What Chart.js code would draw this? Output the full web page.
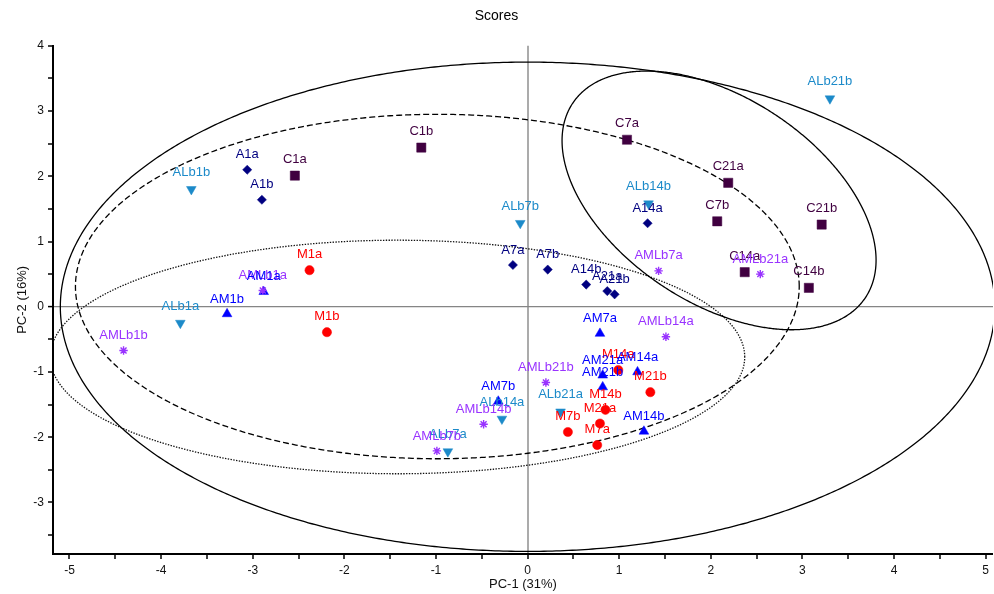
<!DOCTYPE html>
<html><head><meta charset="utf-8">
<script src="https://cdn.jsdelivr.net/npm/chart.js@4.4.0/dist/chart.umd.min.js"></script>
<style>html,body{margin:0;padding:0;background:#fff}#wrap{width:994px;height:594px;position:relative}</style>
</head><body><div id="wrap"><canvas id="c" width="994" height="594"></canvas></div>
<script>
// ---- data ----
const aNames = ['A1a','A1b','A7a','A7b','A14a','A14b','A21a','A21b'];
const aX = [-3.06,-2.90,-0.16,0.22,1.31,0.64,0.87,0.95];
const aY = [2.10,1.64,0.64,0.57,1.28,0.34,0.24,0.19];

const cNames = ['C1a','C1b','C7a','C7b','C14a','C14b','C21a','C21b'];
const cX = [-2.54,-1.16,1.085,2.07,2.37,3.07,2.19,3.21];
const cY = [2.01,2.44,2.56,1.31,0.53,0.29,1.90,1.26];

const albNames = ['ALb1a','ALb1b','ALb7a','ALb7b','ALb14a','ALb14b','ALb21a','ALb21b'];
const albX = [-3.79,-3.67,-0.87,-0.08,-0.28,1.32,0.36,3.30];
const albY = [-0.25,1.80,-2.22,1.28,-1.72,1.58,-1.61,3.19];

const amNames = ['AM1a','AM1b','AM7a','AM7b','AM14a','AM14b','AM21a','AM21b'];
const amX = [-2.88,-3.28,0.79,-0.32,1.20,1.27,0.82,0.82];
const amY = [0.23,-0.11,-0.41,-1.45,-1.00,-1.91,-1.05,-1.23];

const mNames = ['M1a','M1b','M7a','M7b','M14a','M14b','M21a','M21b'];
const mX = [-2.38,-2.19,0.76,0.44,0.99,0.85,0.79,1.34];
const mY = [0.56,-0.39,-2.12,-1.92,-0.97,-1.58,-1.79,-1.31];

const amlNames = ['AMLb1a','AMLb1b','AMLb7a','AMLb7b','AMLb14a','AMLb14b','AMLb21a','AMLb21b'];
const amlX = [-2.89,-4.41,1.43,-0.99,1.51,-0.48,2.54,0.20];
const amlY = [0.25,-0.67,0.55,-2.21,-0.46,-1.80,0.50,-1.16];

// confidence ellipses: centre and two semi-axis vectors (data units)
const ellCx = [0, -0.985, -1.42, 2.09];
const ellCy = [0, 0.31, -0.77, 1.63];
const ellUx = [5.10, 3.95, 3.79, 1.598];
const ellUy = [0, 0, 0, -1.489];
const ellVx = [0, 0, 0, -0.619];
const ellVy = [3.75, 2.64, 1.79, -1.309];

const xTitle = 'PC-1 (31%)';
const yTitle = 'PC-2 (16%)';
const chartTitle = 'Scores';

// ---- styles ----
const FONT = "'Liberation Sans', Arial, Helvetica, sans-serif";
const ellStyle = [
  {dash: [], width: 1.3, color: '#000'},
  {dash: [6, 3], width: 1.3, color: '#000'},
  {dash: [1.4, 1.4], width: 1.3, color: '#111'},
  {dash: [], width: 1.3, color: '#000'}
];

function pts(xs, ys){ return xs.map((v,i)=>({x:v, y:ys[i]})); }

const seriesDefs = [
  {names: cNames, xs: cX, ys: cY, color: '#400040', style: 'rect', r: 6.5, rot: 0, off: 16},
  {names: aNames, xs: aX, ys: aY, color: '#000080', style: 'rectRot', r: 4.6, rot: 0, off: 15},
  {names: albNames, xs: albX, ys: albY, color: '#1C8AC9', style: 'triangle', r: 5.6, rot: 180, off: 17},
  {names: mNames, xs: mX, ys: mY, color: '#FF0000', style: 'circle', r: 4.6, rot: 0, off: 15.5},
  {names: amlNames, xs: amlX, ys: amlY, color: '#9933FF', style: 'star', r: 4.2, rot: 0, off: 15},
  {names: amNames, xs: amX, ys: amY, color: '#0000FF', style: 'triangle', r: 5.6, rot: 0, off: 15}
];

const datasets = seriesDefs.map(s => ({
  data: pts(s.xs, s.ys),
  names: s.names,
  labelOffset: s.off,
  pointStyle: s.style,
  pointRadius: s.r,
  pointHoverRadius: s.r,
  pointRotation: s.rot,
  backgroundColor: s.color,
  borderColor: s.color,
  borderWidth: s.style === 'star' ? 1.4 : 0.5,
  showLine: false
}));

const ellipsePlugin = {
  id: 'ellipses',
  beforeDatasetsDraw(chart){
    const {ctx, chartArea: ca, scales: {x, y}} = chart;
    ctx.save();
    ctx.beginPath();
    ctx.rect(ca.left, ca.top, ca.right - ca.left, ca.bottom - ca.top);
    ctx.clip();
    ellCx.forEach((cx, i) => {
      ctx.beginPath();
      for (let k = 0; k <= 720; k++) {
        const t = k * Math.PI / 360;
        const vx = cx + ellUx[i]*Math.cos(t) + ellVx[i]*Math.sin(t);
        const vy = ellCy[i] + ellUy[i]*Math.cos(t) + ellVy[i]*Math.sin(t);
        const px = x.getPixelForValue(vx), py = y.getPixelForValue(vy);
        if (k === 0) ctx.moveTo(px, py); else ctx.lineTo(px, py);
      }
      ctx.closePath();
      const st = ellStyle[i];
      ctx.setLineDash(st.dash);
      ctx.lineWidth = st.width;
      ctx.strokeStyle = st.color;
      ctx.stroke();
    });
    ctx.restore();
  }
};

const labelPlugin = {
  id: 'pointLabels',
  afterDatasetsDraw(chart){
    const ctx = chart.ctx;
    ctx.save();
    ctx.font = '13px ' + FONT;
    ctx.textAlign = 'center';
    ctx.textBaseline = 'middle';
    chart.data.datasets.forEach((ds, di) => {
      const meta = chart.getDatasetMeta(di);
      ctx.fillStyle = ds.borderColor;
      meta.data.forEach((el, i) => {
        ctx.fillText(ds.names[i], el.x, el.y - ds.labelOffset);
      });
    });
    ctx.restore();
  }
};

function halfStepTicks(axis){
  axis.ticks = axis.ticks.filter(t => Math.abs(t.value*2 - Math.round(t.value*2)) < 1e-6);
}
function intLabel(v){
  return Math.abs(v - Math.round(v)) < 1e-6 ? String(Math.round(v)) : '';
}

new Chart(document.getElementById('c'), {
  type: 'scatter',
  data: {datasets},
  options: {
    responsive: false,
    animation: false,
    devicePixelRatio: 1,
    layout: {autoPadding: false, padding: {left: 0, right: 1, top: 0, bottom: 0}},
    plugins: {
      legend: {display: false},
      tooltip: {enabled: false},
      title: {display: true, text: chartTitle, color: '#000',
        font: {family: FONT, size: 14, weight: 'normal'}, padding: {top: 8, bottom: 21}}
    },
    scales: {
      x: {
        type: 'linear', position: 'bottom', min: -5.18, max: 5.08,
        afterBuildTicks: halfStepTicks,
        afterFit: s => { s.height = 40; s.paddingLeft = 0; s.paddingRight = 0; },
        border: {display: true, color: '#000', width: 2},
        grid: {
          drawOnChartArea: true, drawTicks: true,
          color: c => (c.tick && Math.abs(c.tick.value) < 1e-9) ? '#ababab' : 'rgba(0,0,0,0)',
          lineWidth: c => (c.tick && Math.abs(c.tick.value) < 1e-9) ? 2 : 0,
          tickColor: '#000', tickLength: 5, tickWidth: 1.5
        },
        ticks: {stepSize: 0.5, includeBounds: false, autoSkip: false, maxRotation: 0, padding: 4,
          callback: intLabel, color: '#111', font: {family: FONT, size: 12}},
        title: {display: true, text: xTitle, color: '#111',
          font: {family: FONT, size: 13}, padding: {top: 0, bottom: 2}}
      },
      y: {
        type: 'linear', position: 'left', min: -3.79, max: 4,
        afterBuildTicks: halfStepTicks,
        afterFit: s => { s.width = 53; s.paddingTop = 0; s.paddingBottom = 0; },
        border: {display: true, color: '#000', width: 2},
        grid: {
          drawOnChartArea: true, drawTicks: true,
          color: c => (c.tick && Math.abs(c.tick.value) < 1e-9) ? '#858585' : 'rgba(0,0,0,0)',
          lineWidth: c => (c.tick && Math.abs(c.tick.value) < 1e-9) ? 1.2 : 0,
          tickColor: '#000', tickLength: 5, tickWidth: 1.5
        },
        ticks: {stepSize: 0.5, includeBounds: false, autoSkip: false, padding: 4,
          callback: intLabel, color: '#111', font: {family: FONT, size: 12}},
        title: {display: true, text: yTitle, color: '#111',
          font: {family: FONT, size: 13}, padding: {top: 15, bottom: 0}}
      }
    }
  },
  plugins: [ellipsePlugin, labelPlugin]
});
</script></body></html>
